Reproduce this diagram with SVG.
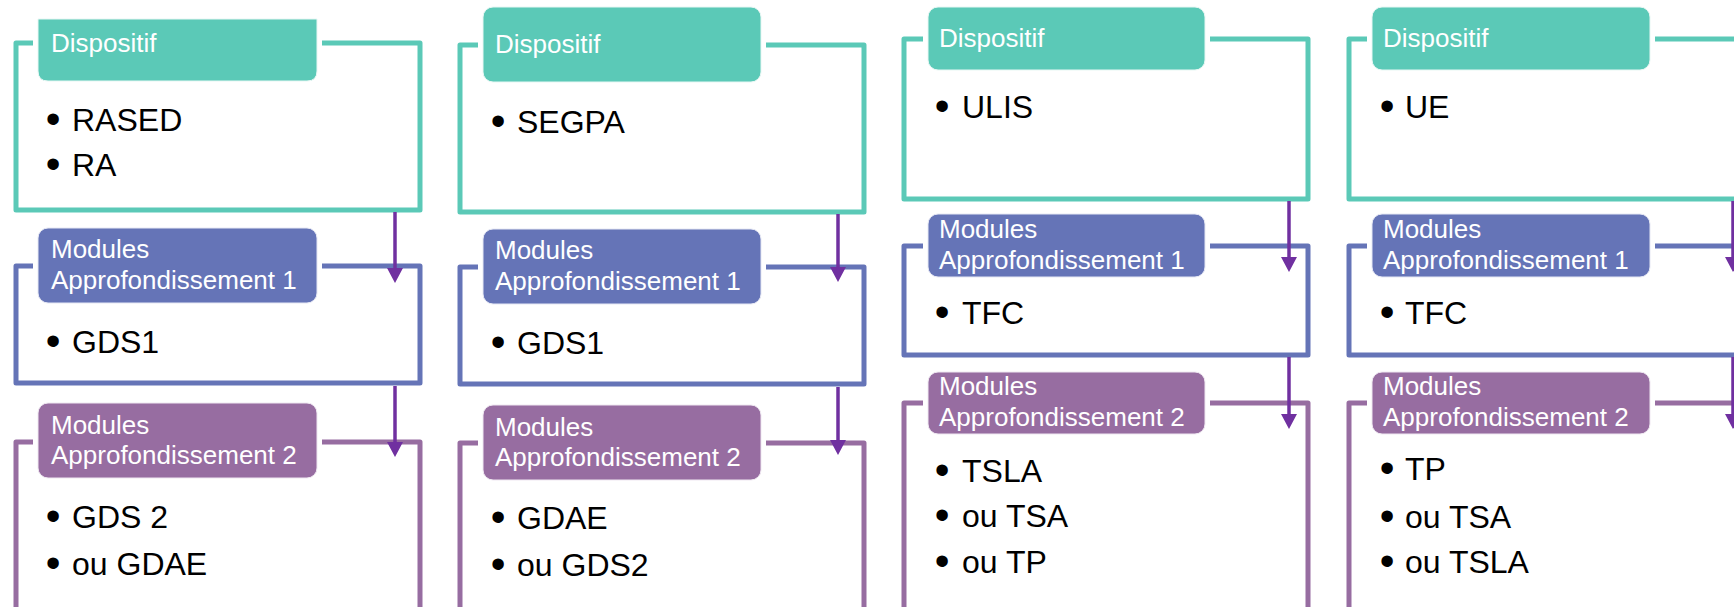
<svg xmlns="http://www.w3.org/2000/svg" width="1734" height="607" viewBox="0 0 1734 607">
<style>
.bg{fill:#ffffff}
.fr{fill:none;stroke-width:5;stroke-linejoin:round}
.t1{stroke:#5BC9B7}
.t2{stroke:#6574B7}
.t3{stroke:#976DA1}
.gap{fill:#ffffff}
.h1{fill:#5BC9B7;stroke:#e8f7f4;stroke-width:1}
.h2{fill:#6574B7;stroke:#e6e8f4;stroke-width:1}
.h3{fill:#976DA1;stroke:#efe8f1;stroke-width:1}
.ht{font-family:"Liberation Sans",Arial,sans-serif;font-size:26px;fill:#ffffff}
.bt{font-family:"Liberation Sans",Arial,sans-serif;font-size:32px;fill:#000000}
.bu{font-family:"Liberation Sans",Arial,sans-serif;font-size:42px;fill:#000000;text-anchor:middle}
.ar{stroke:#7030A0;stroke-width:3.5;fill:none}
</style>
<defs>
<marker id="ah" markerUnits="userSpaceOnUse" markerWidth="16" markerHeight="16" refX="3" refY="8" orient="auto">
<path d="M0,0 L15,8 L0,16 z" fill="#7030A0"/>
</marker>
</defs>
<rect class="bg" x="0" y="0" width="1734" height="607"/>

<!-- Column 1 -->
<g id="c1-dispositif">
<rect class="fr t1" x="16" y="43" width="404" height="167"/>
<rect class="gap" x="33" y="19" width="289" height="67" rx="12"/>
<path class="h1" d="M38,19 H317 V71 Q317,81 307,81 H48 Q38,81 38,71 Z"/>
<text class="ht" x="51" y="52">Dispositif</text>
<text class="bu" x="53" y="133">•</text><text class="bt" x="72" y="131">RASED</text>
<text class="bu" x="53" y="178">•</text><text class="bt" x="72" y="176">RA</text>
</g>
<g id="c1-mod1">
<rect class="fr t2" x="16" y="266" width="404" height="117"/>
<rect class="gap" x="33" y="223" width="289" height="85" rx="12"/>
<rect class="h2" x="38" y="228" width="279" height="75" rx="10"/>
<text class="ht" x="51" y="258">Modules</text>
<text class="ht" x="51" y="289">Approfondissement 1</text>
<text class="bu" x="53" y="355">•</text><text class="bt" x="72" y="353">GDS1</text>
</g>
<g id="c1-mod2">
<rect class="fr t3" x="16" y="442" width="404" height="200"/>
<rect class="gap" x="33" y="398" width="289" height="85" rx="12"/>
<rect class="h3" x="38" y="403" width="279" height="75" rx="10"/>
<text class="ht" x="51" y="434">Modules</text>
<text class="ht" x="51" y="464">Approfondissement 2</text>
<text class="bu" x="53" y="530">•</text><text class="bt" x="72" y="528">GDS 2</text>
<text class="bu" x="53" y="577">•</text><text class="bt" x="72" y="575">ou GDAE</text>
</g>

<!-- Column 2 -->
<g id="c2-dispositif">
<rect class="fr t1" x="460" y="45" width="404" height="167"/>
<rect class="gap" x="478" y="2" width="288" height="85" rx="12"/>
<rect class="h1" x="483" y="7" width="278" height="75" rx="10"/>
<text class="ht" x="495" y="53">Dispositif</text>
<text class="bu" x="498" y="135">•</text><text class="bt" x="517" y="133">SEGPA</text>
</g>
<g id="c2-mod1">
<rect class="fr t2" x="460" y="267" width="404" height="117"/>
<rect class="gap" x="478" y="224" width="288" height="85" rx="12"/>
<rect class="h2" x="483" y="229" width="278" height="75" rx="10"/>
<text class="ht" x="495" y="259">Modules</text>
<text class="ht" x="495" y="290">Approfondissement 1</text>
<text class="bu" x="498" y="356">•</text><text class="bt" x="517" y="354">GDS1</text>
</g>
<g id="c2-mod2">
<rect class="fr t3" x="460" y="443" width="404" height="200"/>
<rect class="gap" x="478" y="400" width="288" height="85" rx="12"/>
<rect class="h3" x="483" y="405" width="278" height="75" rx="10"/>
<text class="ht" x="495" y="436">Modules</text>
<text class="ht" x="495" y="466">Approfondissement 2</text>
<text class="bu" x="498" y="531">•</text><text class="bt" x="517" y="529">GDAE</text>
<text class="bu" x="498" y="578">•</text><text class="bt" x="517" y="576">ou GDS2</text>
</g>

<!-- Column 3 -->
<g id="c3-dispositif">
<rect class="fr t1" x="904" y="39" width="404" height="160"/>
<rect class="gap" x="923" y="2" width="287" height="73" rx="12"/>
<rect class="h1" x="928" y="7" width="277" height="63" rx="10"/>
<text class="ht" x="939" y="47">Dispositif</text>
<text class="bu" x="942" y="120">•</text><text class="bt" x="962" y="118">ULIS</text>
</g>
<g id="c3-mod1">
<rect class="fr t2" x="904" y="246" width="404" height="109"/>
<rect class="gap" x="923" y="209" width="287" height="73" rx="12"/>
<rect class="h2" x="928" y="214" width="277" height="63" rx="10"/>
<text class="ht" x="939" y="238">Modules</text>
<text class="ht" x="939" y="269">Approfondissement 1</text>
<text class="bu" x="942" y="326">•</text><text class="bt" x="962" y="324">TFC</text>
</g>
<g id="c3-mod2">
<rect class="fr t3" x="904" y="403" width="404" height="240"/>
<rect class="gap" x="923" y="367" width="287" height="72" rx="12"/>
<rect class="h3" x="928" y="372" width="277" height="62" rx="10"/>
<text class="ht" x="939" y="395">Modules</text>
<text class="ht" x="939" y="426">Approfondissement 2</text>
<text class="bu" x="942" y="484">•</text><text class="bt" x="962" y="482">TSLA</text>
<text class="bu" x="942" y="529">•</text><text class="bt" x="962" y="527">ou TSA</text>
<text class="bu" x="942" y="575">•</text><text class="bt" x="962" y="573">ou TP</text>
</g>

<!-- Column 4 -->
<g id="c4-dispositif">
<rect class="fr t1" x="1349" y="39" width="404" height="160"/>
<rect class="gap" x="1367" y="2" width="288" height="73" rx="12"/>
<rect class="h1" x="1372" y="7" width="278" height="63" rx="10"/>
<text class="ht" x="1383" y="47">Dispositif</text>
<text class="bu" x="1387" y="120">•</text><text class="bt" x="1405" y="118">UE</text>
</g>
<g id="c4-mod1">
<rect class="fr t2" x="1349" y="246" width="404" height="109"/>
<rect class="gap" x="1367" y="209" width="288" height="73" rx="12"/>
<rect class="h2" x="1372" y="214" width="278" height="63" rx="10"/>
<text class="ht" x="1383" y="238">Modules</text>
<text class="ht" x="1383" y="269">Approfondissement 1</text>
<text class="bu" x="1387" y="326">•</text><text class="bt" x="1405" y="324">TFC</text>
</g>
<g id="c4-mod2">
<rect class="fr t3" x="1349" y="403" width="404" height="240"/>
<rect class="gap" x="1367" y="367" width="288" height="72" rx="12"/>
<rect class="h3" x="1372" y="372" width="278" height="62" rx="10"/>
<text class="ht" x="1383" y="395">Modules</text>
<text class="ht" x="1383" y="426">Approfondissement 2</text>
<text class="bu" x="1387" y="482">•</text><text class="bt" x="1405" y="480">TP</text>
<text class="bu" x="1387" y="530">•</text><text class="bt" x="1405" y="528">ou TSA</text>
<text class="bu" x="1387" y="575">•</text><text class="bt" x="1405" y="573">ou TSLA</text>
</g>

<g id="connectors">
<line class="ar" x1="395" y1="212" x2="395" y2="271" marker-end="url(#ah)"/>
<line class="ar" x1="395" y1="386" x2="395" y2="445" marker-end="url(#ah)"/>
<line class="ar" x1="838" y1="214" x2="838" y2="270" marker-end="url(#ah)"/>
<line class="ar" x1="838" y1="387" x2="838" y2="443" marker-end="url(#ah)"/>
<line class="ar" x1="1289" y1="201" x2="1289" y2="260" marker-end="url(#ah)"/>
<line class="ar" x1="1289" y1="357" x2="1289" y2="417" marker-end="url(#ah)"/>
<line class="ar" x1="1733" y1="201" x2="1733" y2="260" marker-end="url(#ah)"/>
<line class="ar" x1="1733" y1="357" x2="1733" y2="417" marker-end="url(#ah)"/>
</g>
</svg>
